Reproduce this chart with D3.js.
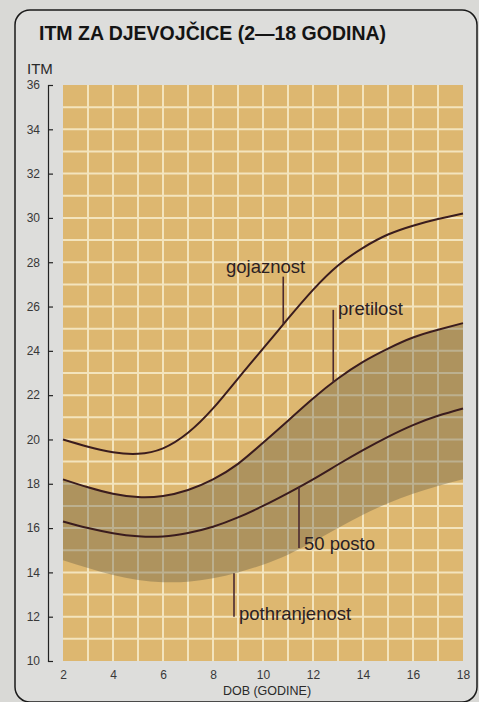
<!DOCTYPE html>
<html><head><meta charset="utf-8">
<script src="https://cdn.jsdelivr.net/npm/d3@7"></script>
<style>
html,body{margin:0;padding:0;background:#d9d9d6;}
svg{display:block;}
text{font-family:"Liberation Sans",Arial,Helvetica,sans-serif;}
</style></head>
<body>
<svg id="c" width="479" height="702"></svg>
<script>
// ---- data ----
const title = "ITM ZA DJEVOJČICE (2—18 GODINA)";
const yLabel = "ITM";
const xLabel = "DOB (GODINE)";
const ages = [2,3,4,5,6,7,8,9,10,11,12,13,14,15,16,17,18];
const gojaznost     = [20.0,19.67,19.42,19.35,19.6,20.3,21.4,22.75,24.1,25.45,26.75,27.85,28.65,29.25,29.65,29.95,30.2];
const pretilost     = [18.2,17.84,17.55,17.4,17.45,17.72,18.2,18.9,19.85,20.85,21.85,22.75,23.5,24.1,24.6,24.95,25.25];
const posto50       = [16.3,16.0,15.77,15.63,15.62,15.78,16.06,16.48,17.0,17.58,18.2,18.87,19.52,20.12,20.65,21.07,21.4];
const pothranjenost = [14.55,14.2,13.88,13.66,13.56,13.58,13.73,14.0,14.35,14.8,15.38,16.0,16.6,17.12,17.55,17.9,18.2];
const yTicks = [10,12,14,16,18,20,22,24,26,28,30,32,34,36];
const xTicks = [2,4,6,8,10,12,14,16,18];
// annotations: label, age of leader, leader top value, text start age, text baseline value, series
const annotations = [
  {label:"gojaznost", age:10.81, top:27.35, tx:8.52, ty:27.53, series:gojaznost},
  {label:"pretilost", age:12.81, top:25.85, tx:13.0, ty:25.6, series:pretilost},
  {label:"50 posto", age:11.44, top:15.1, tx:11.64, ty:15.0, series:posto50},
  {label:"pothranjenost", age:8.84, top:12.0, tx:9.04, ty:11.85, series:pothranjenost}
];

// ---- drawing ----
const svg = d3.select("#c");
const x = d3.scaleLinear([2,18],[63,463]);
const y = d3.scaleLinear([10,36],[661,85]);

// card
svg.append("rect").attr("x",15).attr("y",10).attr("width",462).attr("height",692).attr("rx",15)
  .attr("fill","#dddddb").attr("stroke","#1a1a1a").attr("stroke-width",1.5);

svg.append("text").attr("x",39).attr("y",40).attr("font-size",19.5).attr("font-weight","bold")
  .attr("fill","#141414").text(title);
svg.append("text").attr("x",27).attr("y",74).attr("font-size",15).attr("fill","#2a2a2a").text(yLabel);

// grid
svg.append("rect").attr("x",x(2)).attr("y",y(36)).attr("width",x(18)-x(2)).attr("height",y(10)-y(36))
  .attr("fill","#ddb770");
const g = svg.append("g").attr("stroke","#f3e4bd").attr("stroke-width",2);
d3.range(3,18).forEach(a=>g.append("line").attr("x1",x(a)).attr("x2",x(a)).attr("y1",y(36)).attr("y2",y(10)));
d3.range(11,36).forEach(v=>g.append("line").attr("y1",y(v)).attr("y2",y(v)).attr("x1",x(2)).attr("x2",x(18)));

// band
const area = d3.area().x((d,i)=>x(ages[i])).y0((d,i)=>y(pothranjenost[i])).y1((d,i)=>y(pretilost[i]))
  .curve(d3.curveNatural);
svg.append("path").datum(ages).attr("d",area).attr("fill","rgb(95,86,66)").attr("fill-opacity",0.37);

// curves
const line = d3.line().x((d,i)=>x(ages[i])).y(d=>y(d)).curve(d3.curveNatural);
[gojaznost,pretilost,posto50].forEach(s=>{
  svg.append("path").datum(s).attr("d",line).attr("fill","none").attr("stroke","#3a1c1e").attr("stroke-width",2);
});

// annotations
const interp = (s,a)=>{const i=Math.min(Math.floor(a-2),15);const t=a-2-i;return s[i]*(1-t)+s[i+1]*t;};
annotations.forEach(an=>{
  svg.append("line").attr("x1",x(an.age)).attr("x2",x(an.age))
    .attr("y1",y(interp(an.series,an.age))).attr("y2",y(an.top))
    .attr("stroke","#4a2a30").attr("stroke-width",1.6);
  svg.append("text").attr("x",x(an.tx)).attr("y",y(an.ty)).attr("font-size",18.5).attr("fill","#2a2024").text(an.label);
});

// y axis
const ya = svg.append("g").attr("transform","translate(48,0)")
  .call(d3.axisLeft(y).tickValues(yTicks).tickSize(-5).tickSizeOuter(-5).tickPadding(8));
ya.select(".domain").attr("stroke","#222").attr("stroke-width",1.2);
ya.selectAll(".tick line").attr("stroke","#222").attr("stroke-width",1.2);
ya.selectAll("text").attr("font-size",12).attr("fill","#383838").attr("font-family","Liberation Sans, Arial, sans-serif");

// x axis
const xa = svg.append("g").attr("transform","translate(0,670)")
  .call(d3.axisBottom(x).tickValues(xTicks).tickSize(0).tickPadding(0));
xa.select(".domain").remove();
xa.selectAll("text").attr("font-size",12).attr("fill","#383838").attr("dy","0.71em").attr("font-family","Liberation Sans, Arial, sans-serif");
svg.append("text").attr("x",267).attr("y",695).attr("text-anchor","middle").attr("font-size",12.5)
  .attr("fill","#2a2a2a").text(xLabel);
</script>
</body></html>
